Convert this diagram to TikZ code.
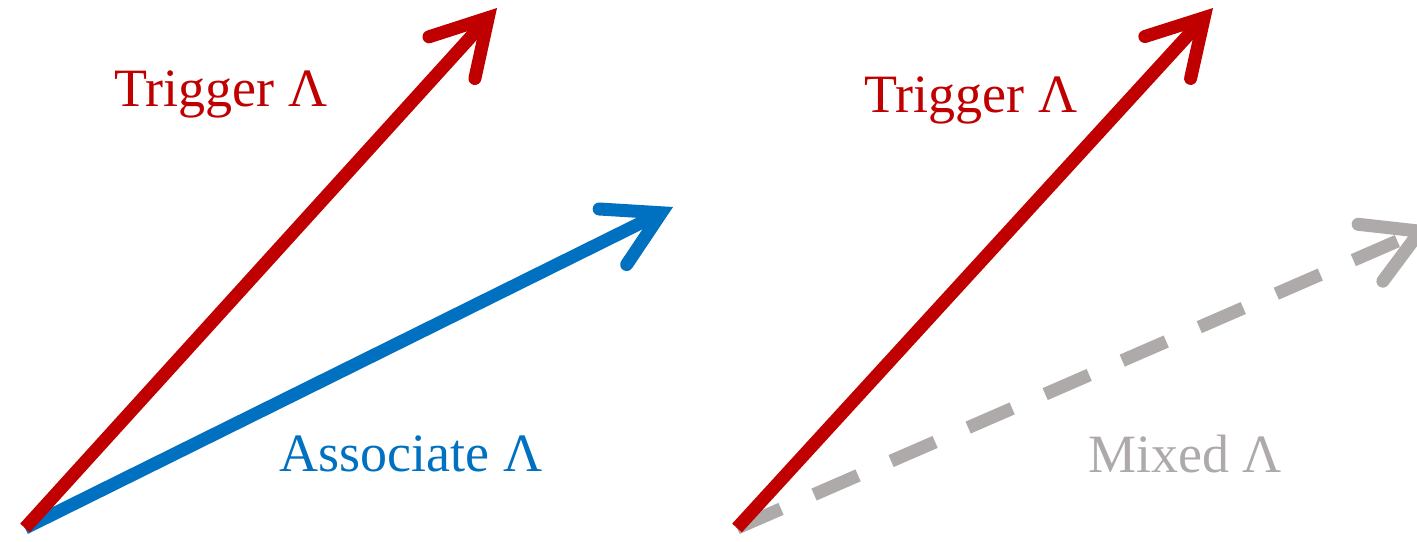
\documentclass[tikz,border=0pt]{standalone}
\usepackage{fontspec}
\setmainfont{Liberation Serif}
\usetikzlibrary{arrows.meta}
\definecolor{trigred}{RGB}{192,0,0}
\definecolor{assocblue}{RGB}{0,112,192}
\definecolor{mixgray}{RGB}{174,170,170}
\begin{document}
\begin{tikzpicture}[x=0.5pt,y=-0.5pt,vec/.style={line width=6.5pt,-{Straight Barb[length=27pt,width=31pt,line cap=round,line join=miter]}},lbl/.style={font=\fontsize{27}{31}\selectfont,inner sep=0pt}]
\useasboundingbox (0,0) rectangle (1417,541);
\coordinate (o1) at (25,528);\coordinate (t1) at (497,8);\coordinate (a1) at (673,207);
\coordinate (o2) at (737,528);\coordinate (t2) at (1213,8);\coordinate (m2) at (1432,226);
\draw[vec,assocblue] (o1)--(a1);
\draw[vec,trigred] (o1)--(t1);
\draw[vec,mixgray,dash pattern=on 24pt off 18pt] (o2)--(m2);
\draw[vec,trigred] (o2)--(t2);
\node[lbl,text=trigred] (trig1) at (221,94) {Trigger Λ};
\node[lbl,text=assocblue] (assoc) at (411,454) {Associate Λ};
\node[lbl,text=trigred] (trig2) at (971,100) {Trigger Λ};
\node[lbl,text=mixgray] (mixed) at (1185,454) {Mixed Λ};
\end{tikzpicture}
\end{document}
